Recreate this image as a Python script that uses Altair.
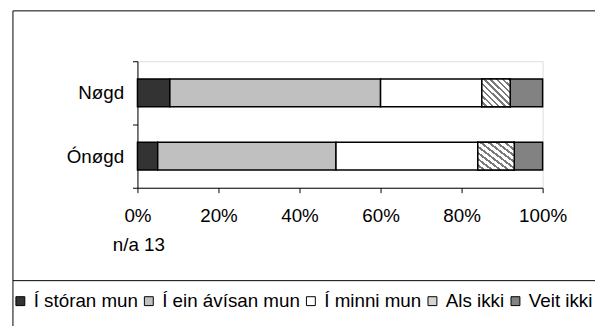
import altair as alt
import pandas as pd

categories = ["Nøgd", "Ónøgd"]
series = ["Í stóran mun", "Í ein ávísan mun", "Í minni mun", "Als ikki", "Veit ikki"]
nogd_values = [8, 52, 25, 7, 8]
onogd_values = [5, 44, 35, 9, 7]
x_ticks = [0, 20, 40, 60, 80, 100]
note_text = "n/a 13"
colors = ["#333333", "#c0c0c0", "#ffffff", "#d4d4d4", "#828282"]

rows = []
for cat, vals in zip(categories, [nogd_values, onogd_values]):
    for i, (s, v) in enumerate(zip(series, vals)):
        rows.append({"cat": cat, "series": s, "value": v, "order": i})
df = pd.DataFrame(rows)

FONT = "Liberation Sans"
W, H = 410, 128
PAD_L, PAD_T = 131, 52
TOTAL_W, TOTAL_H = 594, 318

# hatch gradient for "Als ikki"
n_stripes = 9
stops = []
p = 1.0 / n_stripes
for i in range(n_stripes):
    a = i * p
    b = a + 0.6 * p
    c = (i + 1) * p
    stops += [
        alt.GradientStop(offset=a, color="#ffffff"),
        alt.GradientStop(offset=b, color="#ffffff"),
        alt.GradientStop(offset=b, color="#7a7a7a"),
        alt.GradientStop(offset=c, color="#7a7a7a"),
    ]
hatch = alt.LinearGradient(gradient="linear", stops=stops, x1=0, y1=1, x2=1, y2=0)

y_enc = alt.Y(
    "cat:N",
    sort=categories,
    scale=alt.Scale(paddingInner=0, paddingOuter=0),
    axis=alt.Axis(title=None, tickBand="extent", tickSize=5, labelPadding=9,
                  labelFontSize=19, domainColor="black", tickColor="black"),
)
x_enc = alt.X(
    "x0:Q",
    scale=alt.Scale(domain=[0, 100], nice=False),
    axis=alt.Axis(title=None, values=x_ticks, labelExpr="datum.value + '%'",
                  tickSize=5, labelPadding=14, grid=False, labelFontSize=19,
                  labelFlush=False, domainColor="black", tickColor="black"),
)

base = alt.Chart(df).transform_stack(
    stack="value", groupby=["cat"], sort=[alt.SortField("order", order="ascending")],
    as_=["x0", "x1"],
)

bar_h = {"band": 0.44}

bars = base.mark_bar(stroke="black", strokeWidth=1.5, height=bar_h).encode(
    x=x_enc,
    x2="x1:Q",
    y=y_enc,
    color=alt.Color(
        "series:N",
        scale=alt.Scale(domain=series, range=colors),
        legend=alt.Legend(
            orient="none", legendX=-128, legendY=233, direction="horizontal",
            title=None, symbolType="square", symbolSize=81,
            symbolStrokeColor="black", symbolStrokeWidth=1, symbolOpacity=1,
            labelFont=FONT, labelFontSize=19, labelColor="black",
            labelOffset=4, columnPadding=1, labelLimit=0, padding=0,
        ),
    ),
    order=alt.Order("order:Q"),
)

hatch_bars = base.transform_filter(alt.datum.series == "Als ikki").mark_bar(
    stroke="black", strokeWidth=1.5, fill=hatch, height=bar_h
).encode(x=x_enc, x2="x1:Q", y=y_enc)

one = alt.Data(values=[{"t": note_text}])

frame = alt.Chart(one).mark_rect(fillOpacity=0, stroke="black", strokeWidth=1).encode(
    x=alt.value(-126), x2=alt.value(464), y=alt.value(-51), y2=alt.value(300)
)
divider = alt.Chart(one).mark_rule(color="black", strokeWidth=1).encode(
    x=alt.value(-126), x2=alt.value(464), y=alt.value(222)
)
note = alt.Chart(one).mark_text(
    align="left", baseline="middle", font=FONT, fontSize=19, color="black"
).encode(x=alt.value(-25), y=alt.value(186), text="t:N")

chart = alt.layer(frame, divider, bars, hatch_bars, note).properties(
    width=W, height=H,
    autosize=alt.AutoSizeParams(type="none"),
    padding={"left": PAD_L, "top": PAD_T, "right": TOTAL_W - PAD_L - W,
             "bottom": TOTAL_H - PAD_T - H},
).configure_view(stroke="transparent").configure_axis(
    labelFont=FONT, labelColor="black", grid=False
).configure(background="white")

chart.save("out.html", embed_options={"renderer": "svg", "actions": False})
